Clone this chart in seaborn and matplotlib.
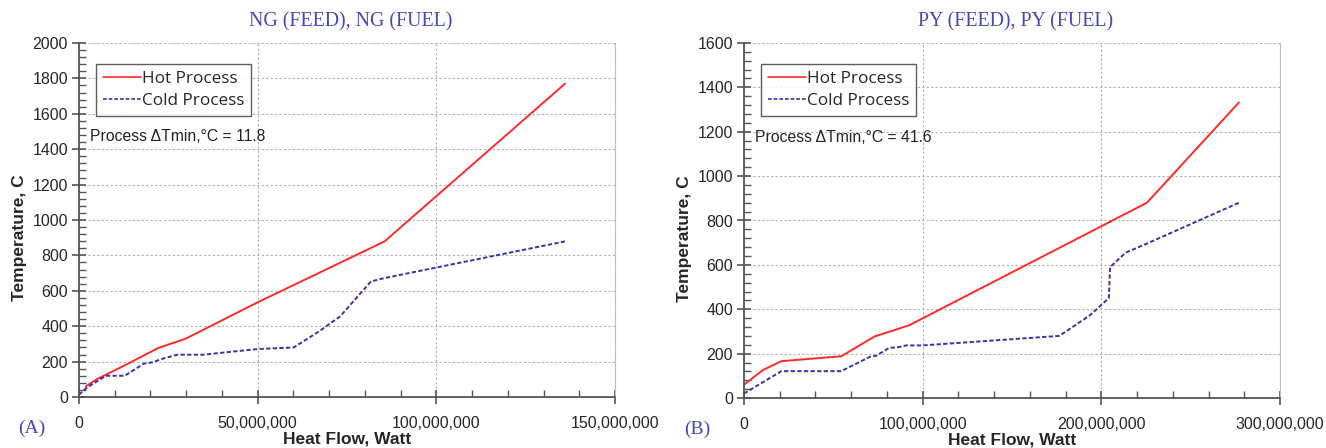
import numpy as np
import pandas as pd
import matplotlib
matplotlib.use("Agg")
import matplotlib.pyplot as plt
import seaborn as sns
from matplotlib.ticker import FuncFormatter, MultipleLocator

# ---- data (Heat flow in W, temperature in C) ----
ng_hot_q = [1.9e6, 5.3e6, 12.2e6, 22.2e6, 29.9e6, 50e6, 85.5e6, 136e6]
ng_hot_t = [60, 104, 173, 277, 330, 535, 879, 1770]
ng_cold_q = [0, 2e6, 7.5e6, 12.8e6, 18.1e6, 20.5e6, 24e6, 27.6e6, 34.7e6, 50e6,
             60.1e6, 67.2e6, 73.1e6, 81.7e6, 85.5e6, 136e6]
ng_cold_t = [13, 50, 120, 120, 188, 196, 220, 239, 239, 271,
             280, 371, 456, 653, 672, 879]

py_hot_q = [0, 10.6e6, 20.9e6, 54.4e6, 73e6, 92.5e6, 225.5e6, 277e6]
py_hot_t = [60, 126, 166, 188, 277, 328, 880, 1332]
py_cold_q = [0, 20.9e6, 54.4e6, 71.1e6, 74e6, 81.4e6, 85.1e6, 90.7e6, 100e6,
             176.5e6, 193.5e6, 204.2e6, 204.9e6, 213.6e6, 225.5e6, 277e6]
py_cold_t = [20, 121, 121, 188, 190, 227, 227, 237, 237,
             280, 372, 450, 590, 655, 696, 880]

titles = ["NG (FEED), NG (FUEL)", "PY (FEED), PY (FUEL)"]
panel_tags = ["(A)", "(B)"]
dtmin_text = ["Process \u0394Tmin,\u00b0C = 11.8", "Process \u0394Tmin,\u00b0C = 41.6"]
series_names = ["Hot Process", "Cold Process"]

sns.set_style("white")
plt.rcParams['font.family'] = ['Liberation Sans', 'DejaVu Sans']
plt.rcParams['xtick.bottom'] = True
plt.rcParams['ytick.left'] = True
plt.rcParams['xtick.minor.visible'] = True
plt.rcParams['ytick.minor.visible'] = True

fig = plt.figure(figsize=(13.26, 4.48), dpi=100)

W, H = 1326, 448
ax_boxes = [(79, 43, 615, 397), (744, 43, 1280, 398)]

panels = [
    (ng_hot_q, ng_hot_t, ng_cold_q, ng_cold_t, 150e6, 50e6, 10e6, 2000),
    (py_hot_q, py_hot_t, py_cold_q, py_cold_t, 300e6, 100e6, 20e6, 1600),
]

title_color = "#4848b4"
spine_col = "#555555"

def fmt(x, pos):
    return f"{int(round(x)):,}"

for i, (hq, ht, cq, ct, xmax, xmaj, xmin_, ymax) in enumerate(panels):
    x0, y0, x1, y1 = ax_boxes[i]
    ax = fig.add_axes([x0 / W, (H - y1) / H, (x1 - x0) / W, (y1 - y0) / H])
    df = pd.concat([
        pd.DataFrame({"q": hq, "t": ht, "s": series_names[0]}),
        pd.DataFrame({"q": cq, "t": ct, "s": series_names[1]}),
    ], ignore_index=True)
    sns.lineplot(data=df, x="q", y="t", hue="s", style="s", sort=False,
                 palette={series_names[0]: "#ff2a2a", series_names[1]: "#3434a6"},
                 dashes={series_names[0]: "", series_names[1]: (2.2, 1.2)},
                 linewidth=1.4, ax=ax, estimator=None)
    ax.set_xlim(0, xmax)
    ax.set_ylim(0, ymax)
    ax.xaxis.set_major_locator(MultipleLocator(xmaj))
    ax.xaxis.set_minor_locator(MultipleLocator(xmin_))
    ax.yaxis.set_major_locator(MultipleLocator(200))
    ax.yaxis.set_minor_locator(MultipleLocator(40))
    ax.xaxis.set_major_formatter(FuncFormatter(fmt))
    ax.grid(True, which="major", color="#b0b0b0", linestyle=(0, (2, 2)), linewidth=0.8)
    ax.grid(False, which="minor")
    ax.tick_params(axis="both", which="both", bottom=True, left=True,
                   top=False, right=False)
    ax.tick_params(axis="both", which="major", direction="inout", length=10,
                   width=1.2, color=spine_col, labelsize=11.5, pad=3)
    ax.tick_params(axis="both", which="minor", direction="in", length=5,
                   width=1.0, color=spine_col)
    ax.tick_params(axis="x", which="major", pad=9)
    for side in ["left", "bottom"]:
        ax.spines[side].set_color(spine_col)
        ax.spines[side].set_linewidth(1.3)
    ax.spines["right"].set_color("#c0c0c0")
    ax.spines["right"].set_linewidth(0.8)
    ax.spines["top"].set_visible(False)

    ax.set_xlabel("Heat Flow, Watt", fontsize=12.5, fontweight="bold")
    ax.xaxis.set_label_coords(0.5, -0.098)
    ax.set_ylabel("Temperature, C", fontsize=12.5, fontweight="bold")
    ax.yaxis.set_label_coords(-0.097, 0.45)

    leg = ax.legend(title=None, loc="upper left", bbox_to_anchor=(0.032, 0.94),
                    frameon=True, fancybox=False, fontsize=12.3,
                    handlelength=2.2, handletextpad=0.1, borderpad=0.4,
                    labelspacing=0.35, borderaxespad=0)
    leg.get_frame().set_edgecolor("#333333")
    leg.get_frame().set_linewidth(1.0)
    for t in leg.get_texts():
        t.set_family(["Open Sans", "DejaVu Sans"])
    for ln in leg.get_lines():
        ln.set_linewidth(1.2)

    ax.text(0.02, 0.735, dtmin_text[i], transform=ax.transAxes, fontsize=11.3,
            ha="left", va="center", color="#222222")

    ax.set_title(titles[i], fontsize=14.3, color=title_color,
                 family=["Liberation Serif", "DejaVu Serif"], pad=12, x=0.507)
    ax.text(-0.088, -0.088, panel_tags[i], transform=ax.transAxes, fontsize=14,
            color=title_color, family=["Liberation Serif", "DejaVu Serif"],
            ha="center", va="center")

fig.savefig("out.png", dpi=100)
